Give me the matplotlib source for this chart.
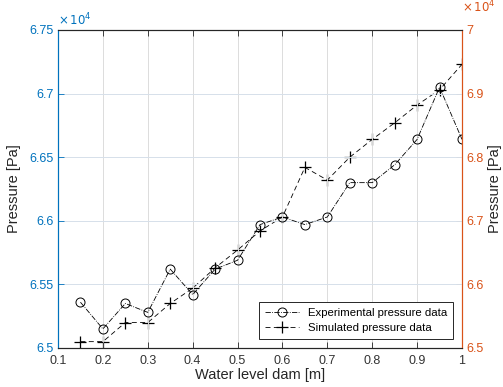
import matplotlib
matplotlib.use("Agg")
import matplotlib.pyplot as plt
from matplotlib.ticker import FuncFormatter, MultipleLocator

plt.rcParams['font.family'] = ['Liberation Sans', 'DejaVu Sans']

water_level = [0.15, 0.2, 0.25, 0.3, 0.35, 0.4, 0.45, 0.5, 0.55, 0.6,
               0.65, 0.7, 0.75, 0.8, 0.85, 0.9, 0.95, 1.0]
experimental = [65360, 65150, 65350, 65280, 65620, 65420, 65620, 65690, 65970, 66030,
                65970, 66030, 66300, 66300, 66440, 66640, 67050, 66640]
# simulated data on the right axis
simulated = [65100, 65100, 65400, 65400, 65700, 65940, 66260, 66540, 66840, 67060,
             67840, 67640, 68000, 68280, 68540, 68820, 69060, 69460]

labels = ['Experimental pressure data', 'Simulated pressure data']

BLUE = '#0072BD'
ORANGE = '#D95319'
AXC = '#262626'

fig = plt.figure(figsize=(5.03, 3.87), dpi=100)
ax = fig.add_axes([58/503, 1-348/387, (462-58)/503, (348-30)/387])
ax2 = ax.twinx()

l1, = ax.plot(water_level, experimental, linestyle='-.', color='black', lw=0.6,
              marker='o', markersize=6.5, markerfacecolor='none', markeredgewidth=0.7)
l2, = ax2.plot(water_level, simulated, linestyle='--', color='black', lw=0.6,
               dashes=(6, 4), marker='+', markersize=9, markeredgewidth=0.9)

ax.set_xlim(0.1, 1.0)
ax.set_ylim(65000, 67500)
ax2.set_ylim(65000, 70000)
ax.xaxis.set_major_locator(MultipleLocator(0.1))
ax.yaxis.set_major_locator(MultipleLocator(500))
ax2.yaxis.set_major_locator(MultipleLocator(1000))

fmt = FuncFormatter(lambda v, p: ('%g' % round(v/1e4, 4)))
ax.yaxis.set_major_formatter(fmt)
ax2.yaxis.set_major_formatter(fmt)
ax.xaxis.set_major_formatter(FuncFormatter(lambda v, p: '%g' % round(v, 2)))

ax.grid(True, axis='x', color='#dcdcdc', lw=0.7)
ax.grid(True, axis='y', color='#d6e0ea', lw=0.7)
ax.set_axisbelow(True)

for a in (ax, ax2):
    a.spines['top'].set_color(AXC)
    a.spines['bottom'].set_color(AXC)
    a.spines['left'].set_color(BLUE)
    a.spines['right'].set_color(ORANGE)
    for s in a.spines.values():
        s.set_linewidth(0.8)

ax.tick_params(axis='x', direction='in', length=4, width=0.6, colors=AXC,
               labelsize=9, labelcolor='#333333', top=True, pad=5)
ax.tick_params(axis='y', direction='in', length=4, width=0.6, colors=BLUE,
               labelsize=9, labelcolor=BLUE, pad=3)
ax2.tick_params(axis='y', direction='in', length=4, width=0.6, colors=ORANGE,
                labelsize=9, labelcolor=ORANGE, pad=3)

ax.set_xlabel('Water level dam [m]', fontsize=10.5, color='#262626', labelpad=1)
ax.set_ylabel('Pressure [Pa]', fontsize=10.5, color='#262626', labelpad=6)
ax2.set_ylabel('Pressure [Pa]', fontsize=10.5, color='#262626', labelpad=3)

ax.text(0.0, 1.005, r'$\times\,10^4$', transform=ax.transAxes, color=BLUE,
        fontsize=8.5, ha='left', va='bottom', family='DejaVu Sans')
ax2.text(1.0, 1.045, r'$\times\,10^4$', transform=ax.transAxes, color=ORANGE,
         fontsize=8.5, ha='left', va='bottom', family='DejaVu Sans')

leg = ax.legend([l1, l2], labels, loc='lower right', fontsize=8.2, frameon=True,
                fancybox=False, edgecolor=AXC, framealpha=1, borderaxespad=0.8,
                handlelength=3, borderpad=0.5, labelspacing=0.45)
leg.get_frame().set_linewidth(0.7)
leg.set_zorder(10)
ax.set_zorder(ax2.get_zorder() + 1)
ax.patch.set_visible(False)

fig.savefig('out.png', dpi=100)
